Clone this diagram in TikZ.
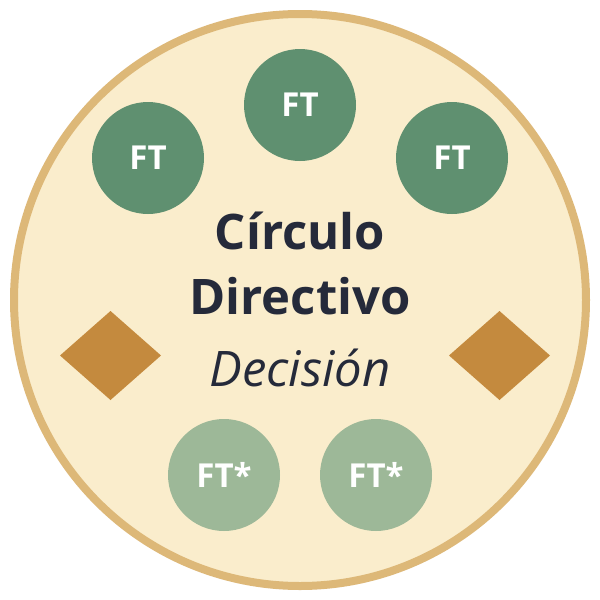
\documentclass[tikz,border=0pt]{standalone}
\usepackage{fontspec}
\setmainfont{Open Sans}
\definecolor{cream}{HTML}{FAEDCC}
\definecolor{rim}{HTML}{DDB878}
\definecolor{dgreen}{HTML}{5F9070}
\definecolor{lgreen}{HTML}{9DB898}
\definecolor{amber}{HTML}{C48A3E}
\definecolor{ink}{HTML}{252A3A}
\begin{document}
\begin{tikzpicture}[x=1pt,y=-1pt,
  ft/.style={circle,fill=dgreen,minimum size=112pt,inner sep=0pt,text=white,font=\fontsize{33}{33}\selectfont\bfseries},
  ftx/.style={ft,fill=lgreen},
  titletext/.style={text=ink,anchor=base,inner sep=0pt,font=\fontsize{49}{49}\selectfont\bfseries}]
\useasboundingbox (0,0) rectangle (600,600);
\fill[white] (0,0) rectangle (600,600);
\node[circle,draw=rim,line width=8pt,fill=cream,minimum size=572pt,inner sep=0pt] (outer) at (300,300) {};
\node[ft] (t) at (300,105) {FT};
\node[ft] (tl) at (148,158) {FT};
\node[ft] (tr) at (452,158) {FT};
\node[ftx] (bl) at (224,475) {FT*};
\node[ftx] (br) at (376,475) {FT*};
\fill[amber] (60,355.5) -- (110.5,311) -- (161,355.5) -- (110.5,400) -- cycle;
\fill[amber] (449,355.5) -- (499.5,311) -- (550,355.5) -- (499.5,400) -- cycle;
\node[titletext] (l1) at (300,249) {Círculo};
\node[titletext] (l2) at (300,314) {Directivo};
\node[titletext,font=\fontsize{49}{49}\selectfont\itshape] (l3) at (300,386) {Decisión};
\end{tikzpicture}
\end{document}
